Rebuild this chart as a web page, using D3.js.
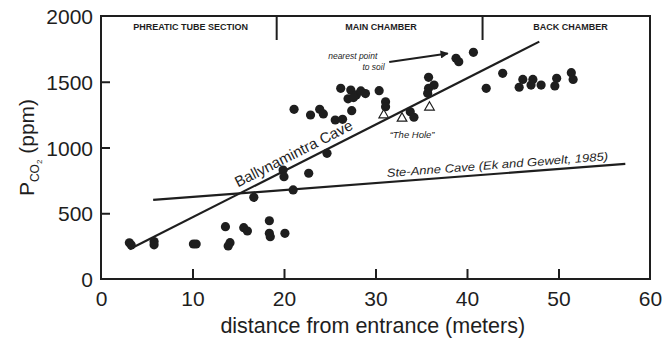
<!DOCTYPE html>
<html>
<head>
<meta charset="utf-8">
<script src="https://d3js.org/d3.v7.min.js"></script>
<style>
    body { margin: 0; background: #fff; }
    svg { font-family: "Liberation Sans", Arial, sans-serif; }
</style>
</head>
<body>
<svg id="canvas"></svg>
<script>
"use strict"

// Chart data
const dotDistance = [3.1, 3.3, 5.8, 5.8, 10.1, 10.4, 13.6, 14.1, 13.9, 15.6, 16.0, 16.7, 18.4, 18.4, 18.5, 20.1,
    19.9, 20.0, 21.0, 22.7, 24.7, 21.1, 22.9, 23.9, 24.3, 25.6, 26.4, 27.4, 26.2, 27.3, 27.0, 27.9, 28.4, 28.9, 27.6,
    30.4, 31.1, 31.1, 33.8, 34.2, 35.8, 35.8, 36.4, 35.7, 38.8, 39.1, 40.7, 42.1, 43.9, 46.1, 47.2, 45.7, 47.0,
    48.1, 49.8, 49.6, 51.4, 51.6];
const dotPco2 = [275, 258, 285, 260, 266, 266, 398, 276, 251, 390, 365, 621, 443, 347, 322, 347,
    829, 778, 677, 804, 956, 1290, 1247, 1290, 1255, 1209, 1214, 1280, 1450, 1437, 1370, 1400, 1430, 1410, 1380,
    1432, 1348, 1310, 1272, 1230, 1534, 1450, 1475, 1412, 1678, 1652, 1724, 1450, 1564, 1518, 1518, 1458, 1475,
    1475, 1526, 1468, 1569, 1518];
const triDistance = [30.9, 32.9, 35.9];
const triPco2 = [1247, 1222, 1306];
const ballyLineX = [3.1, 47.9];
const ballyLineY = [226, 1805];
const steAnneLineX = [5.7, 57.3];
const steAnneLineY = [601, 875];
const sectionBounds = [19.2, 41.7];
const sectionNames = ["PHREATIC TUBE SECTION", "MAIN CHAMBER", "BACK CHAMBER"];
const sectionCenters = [9.8, 30.6, 51.3];
const xTicks = [0, 10, 20, 30, 40, 50, 60];
const yTicks = [0, 500, 1000, 1500, 2000];

const canvasWidth = 664;
const canvasHeight = 339;
const ink = "#1e1e1e";

const margin = { left: 101, right: 14, top: 16, bottom: 60 };

const canvas = d3.select("#canvas")
    .attr("width", canvasWidth)
    .attr("height", canvasHeight);

const x = d3.scaleLinear()
    .domain([0, 60])
    .range([margin.left, canvasWidth - margin.right]);

const y = d3.scaleLinear()
    .domain([0, 2000])
    .range([canvasHeight - margin.bottom, margin.top]);

// Axes with inward ticks
const xAxis = canvas.append("g")
    .attr("transform", `translate(0,${y(0)})`)
    .call(d3.axisBottom(x).tickValues(xTicks).tickFormat(d3.format("d")).tickSize(-10));

const yAxis = canvas.append("g")
    .attr("transform", `translate(${x(0)},0)`)
    .call(d3.axisLeft(y).tickValues(yTicks).tickFormat(d3.format("d")).tickSize(-9));

for(const axis of [xAxis, yAxis]) {
    axis.select(".domain").remove();
    axis.selectAll("line").attr("stroke", ink).attr("stroke-width", 2);
    axis.selectAll("text")
        .attr("fill", ink)
        .attr("font-size", 21);
}
// hide ticks that sit on the frame
xAxis.selectAll(".tick").filter(d => d === 0 || d === 60).select("line").remove();
yAxis.selectAll(".tick").filter(d => d === 0 || d === 2000).select("line").remove();
xAxis.selectAll("text").attr("dy", "0.71em").attr("y", 12);
yAxis.selectAll("text").attr("dy", "0.36em").attr("x", -8);

// Frame
canvas.append("rect")
    .attr("x", x(0))
    .attr("y", y(2000))
    .attr("width", x(60) - x(0))
    .attr("height", y(0) - y(2000))
    .attr("fill", "none")
    .attr("stroke", ink)
    .attr("stroke-width", 2);

// Section dividers and names
canvas.selectAll(".divider")
    .data(sectionBounds)
    .enter()
    .append("line")
    .attr("x1", d => x(d))
    .attr("x2", d => x(d))
    .attr("y1", y(2000))
    .attr("y2", y(2000) + 24)
    .attr("stroke", ink)
    .attr("stroke-width", 2);

canvas.selectAll(".section")
    .data(sectionNames)
    .enter()
    .append("text")
    .text(d => d)
    .attr("x", (d, i) => x(sectionCenters[i]))
    .attr("y", y(2000) + 13.5)
    .attr("text-anchor", "middle")
    .attr("font-size", 9)
    .attr("font-weight", "bold")
    .attr("fill", ink);

// Regression lines
const line = d3.line()
    .x(d => x(d[0]))
    .y(d => y(d[1]));

canvas.append("path")
    .attr("d", line(d3.zip(ballyLineX, ballyLineY)))
    .attr("stroke", ink)
    .attr("stroke-width", 2.2)
    .attr("fill", "none");

canvas.append("path")
    .attr("d", line(d3.zip(steAnneLineX, steAnneLineY)))
    .attr("stroke", ink)
    .attr("stroke-width", 2.2)
    .attr("fill", "none");

// Data points
canvas.selectAll(".dot")
    .data(d3.zip(dotDistance, dotPco2))
    .enter()
    .append("circle")
    .attr("cx", d => x(d[0]))
    .attr("cy", d => y(d[1]))
    .attr("r", 4.6)
    .attr("fill", ink);

const triangle = d3.symbol().type(d3.symbolTriangle).size(40);
canvas.selectAll(".tri")
    .data(d3.zip(triDistance, triPco2))
    .enter()
    .append("path")
    .attr("d", triangle)
    .attr("transform", d => `translate(${x(d[0])},${y(d[1])})`)
    .attr("fill", "#fff")
    .attr("stroke", ink)
    .attr("stroke-width", 1.2);

// Line labels, placed on a point of their line and lifted a little above it
function onLine(lx, ly, at) {
    const t = (at - lx[0]) / (lx[1] - lx[0]);
    return [x(at), y(ly[0] + t * (ly[1] - ly[0]))];
}
function lineAngle(lx, ly) {
    return Math.atan2(y(ly[1]) - y(ly[0]), x(lx[1]) - x(lx[0])) * 180 / Math.PI;
}

const ballyAt = onLine(ballyLineX, ballyLineY, 21.6);
canvas.append("text")
    .text("Ballynamintra Cave")
    .attr("transform", `translate(${ballyAt[0]},${ballyAt[1]}) rotate(${lineAngle(ballyLineX, ballyLineY)})`)
    .attr("dy", -6)
    .attr("text-anchor", "middle")
    .attr("font-size", 15)
    .attr("fill", ink);

const steAt = onLine(steAnneLineX, steAnneLineY, 31.3);
canvas.append("text")
    .text("Ste-Anne Cave (Ek and Gewelt, 1985)")
    .attr("transform", `translate(${steAt[0]},${steAt[1]}) rotate(${lineAngle(steAnneLineX, steAnneLineY)})`)
    .attr("dy", -5)
    .attr("font-size", 11.5)
    .attr("font-style", "italic")
    .attr("textLength", 222)
    .attr("lengthAdjust", "spacingAndGlyphs")
    .attr("fill", ink);

// Annotations
canvas.append("text")
    .attr("text-anchor", "end")
    .attr("font-size", 8.5)
    .attr("font-style", "italic")
    .attr("fill", ink)
    .selectAll("tspan")
    .data(["nearest point", "to soil"])
    .enter()
    .append("tspan")
    .attr("x", (d, i) => i === 0 ? x(30.2) : x(31.0))
    .attr("y", (d, i) => y(1700) + 4 + i * 11)
    .text(d => d);

canvas.append("defs")
    .append("marker")
    .attr("id", "arrow")
    .attr("viewBox", "0 0 10 10")
    .attr("refX", 9)
    .attr("refY", 5)
    .attr("markerWidth", 5)
    .attr("markerHeight", 4)
    .attr("orient", "auto")
    .append("path")
    .attr("d", "M0,0L10,5L0,10z")
    .attr("fill", ink);

canvas.append("line")
    .attr("x1", x(31.5))
    .attr("y1", y(1650))
    .attr("x2", x(37.9))
    .attr("y2", y(1715))
    .attr("stroke", ink)
    .attr("stroke-width", 2)
    .attr("marker-end", "url(#arrow)");

canvas.append("text")
    .text("\u201CThe Hole\u201D")
    .attr("x", x(34.0))
    .attr("y", y(1070))
    .attr("text-anchor", "middle")
    .attr("font-size", 9.5)
    .attr("font-style", "italic")
    .attr("fill", ink);

// Axis titles
canvas.append("text")
    .text("distance from entrance (meters)")
    .attr("x", x(29.7))
    .attr("y", canvasHeight - 6)
    .attr("text-anchor", "middle")
    .attr("font-size", 21.5)
    .attr("fill", ink);

const yTitle = canvas.append("text")
    .attr("transform", `translate(34,${y(1000)}) rotate(-90)`)
    .attr("text-anchor", "middle")
    .attr("font-size", 21)
    .attr("fill", ink);
yTitle.append("tspan").text("P");
yTitle.append("tspan").text("CO").attr("font-size", 12).attr("dy", 5);
yTitle.append("tspan").text("2").attr("font-size", 8).attr("dy", 3);
yTitle.append("tspan").text(" (ppm)").attr("dy", -8);
</script>
</body>
</html>
